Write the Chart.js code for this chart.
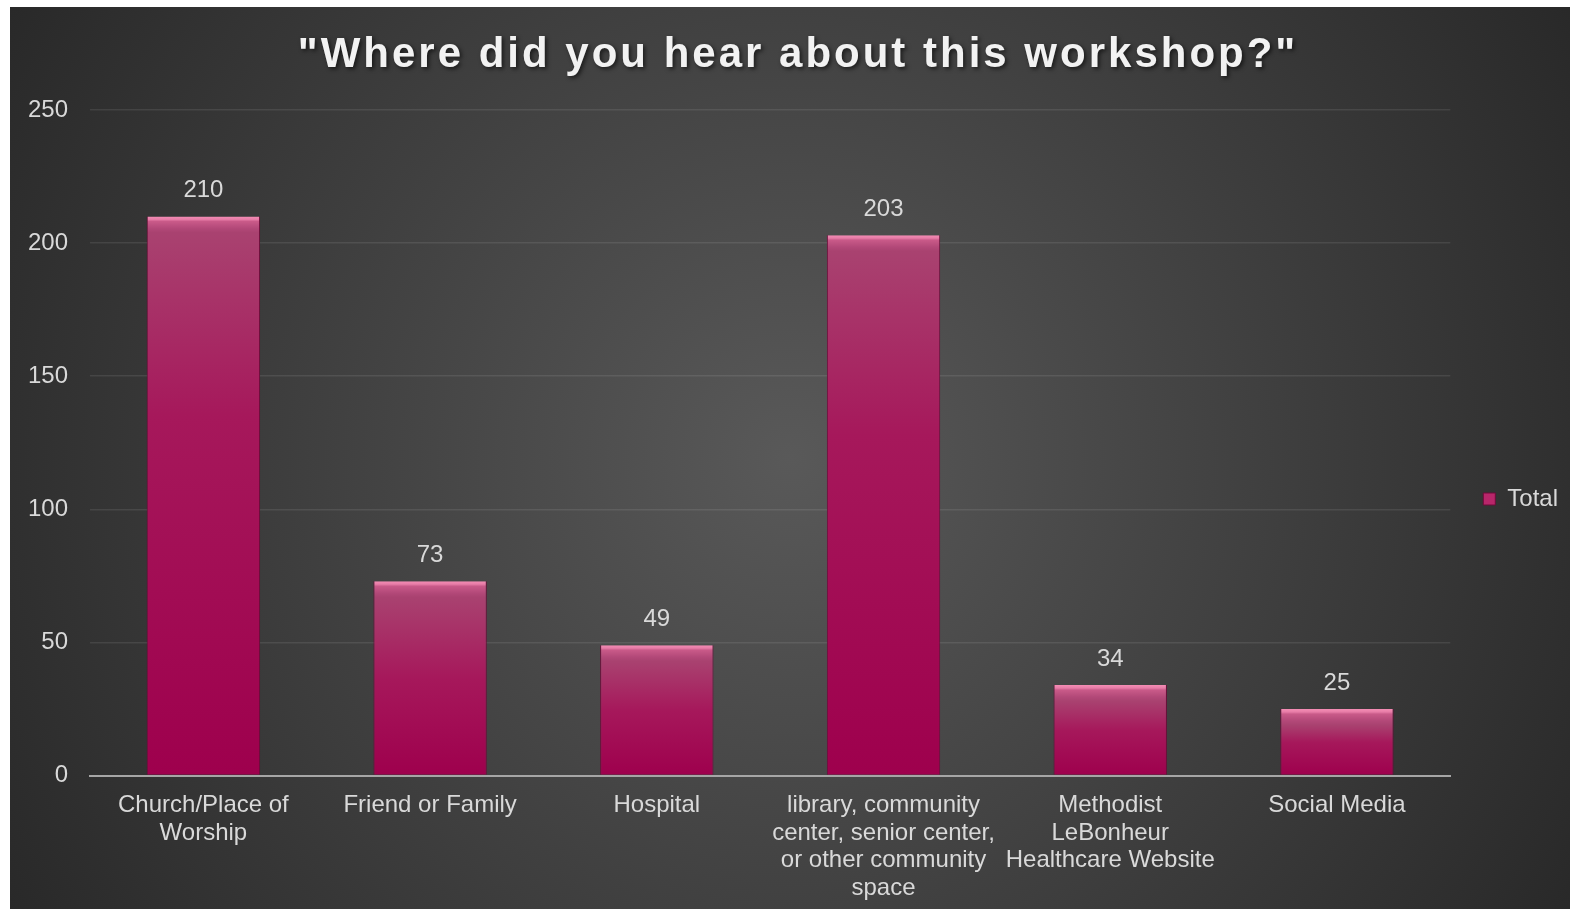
<!DOCTYPE html>
<html>
<head>
<meta charset="utf-8">
<script src="https://cdn.jsdelivr.net/npm/chart.js@4"></script>
<style>
    html, body { margin: 0; padding: 0; background: #ffffff; }
    #wrap { position: absolute; left: 10px; top: 7px; width: 1560px; height: 902px; }
</style>
</head>
<body>
<div id="wrap"><canvas id="chart"></canvas></div>
<script>
// 数据
const categories = [
    ['Church/Place of', 'Worship'],
    'Friend or Family',
    'Hospital',
    ['library, community', 'center, senior center,', 'or other community', 'space'],
    ['Methodist', 'LeBonheur', 'Healthcare Website'],
    'Social Media'
];
const totals = [210, 73, 49, 203, 34, 25];
const yTicks = [0, 50, 100, 150, 200, 250];
const chartTitle = '"Where did you hear about this workshop?"';
const seriesName = 'Total';

const textColor = '#d9d9d9';
const fontFamily = '"Liberation Sans", Arial, sans-serif';

// 背景 (径向渐变)
const backgroundPlugin = {
    id: 'bg',
    beforeDraw(chart) {
        const { ctx, width, height } = chart;
        const g = ctx.createRadialGradient(width * 0.5, height * 0.5, 0, width * 0.5, height * 0.5, width * 0.6);
        g.addColorStop(0, '#595959');
        g.addColorStop(1, '#272727');
        ctx.save();
        ctx.fillStyle = g;
        ctx.fillRect(0, 0, width, height);
        ctx.restore();
    }
};

// 图例上移一点 (与原图对齐)
const legendShiftPlugin = {
    id: 'legendShift',
    afterLayout(chart) {
        if (chart.legend) {
            chart.legend.top -= 15;
            chart.legend.bottom -= 15;
        }
    }
};

// 标题 (带字距和阴影)
const titlePlugin = {
    id: 'spacedTitle',
    afterDraw(chart) {
        const { ctx, width } = chart;
        ctx.save();
        ctx.font = `bold 42px ${fontFamily}`;
        ctx.letterSpacing = '3px';
        ctx.textAlign = 'center';
        ctx.textBaseline = 'alphabetic';
        ctx.shadowColor = 'rgba(0,0,0,0.6)';
        ctx.shadowOffsetX = 2;
        ctx.shadowOffsetY = 2;
        ctx.shadowBlur = 4;
        ctx.fillStyle = '#f2f2f2';
        ctx.fillText(chartTitle, width / 2 + 8, 60);
        ctx.restore();
    }
};

// 数据标签
const valueLabelPlugin = {
    id: 'valueLabels',
    afterDatasetsDraw(chart) {
        const { ctx } = chart;
        const meta = chart.getDatasetMeta(0);
        ctx.save();
        ctx.font = `24px ${fontFamily}`;
        ctx.fillStyle = textColor;
        ctx.textAlign = 'center';
        ctx.textBaseline = 'middle';
        meta.data.forEach((bar, i) => {
            ctx.fillText(String(totals[i]), bar.x, bar.y - 26);
        });
        ctx.restore();
    }
};

// 柱子渐变
function barFill(context) {
    const chart = context.chart;
    const { ctx, chartArea, scales } = chart;
    if (!chartArea) return '#a0004e';
    const v = context.raw;
    const top = scales.y.getPixelForValue(v);
    const bottom = scales.y.getPixelForValue(0);
    const h = Math.max(bottom - top, 1);
    const g = ctx.createLinearGradient(0, top, 0, bottom);
    const f = px => Math.min(px / h, 1);
    g.addColorStop(0, '#f48db5');
    g.addColorStop(f(3), '#e77ca7');
    g.addColorStop(f(5), '#c95a89');
    g.addColorStop(f(12), '#b24878');
    g.addColorStop(f(16), '#a94270');
    g.addColorStop(Math.min(0.5, f(200)), '#a6185b');
    g.addColorStop(1, '#9e004d');
    return g;
}

new Chart(document.getElementById('chart'), {
    type: 'bar',
    data: {
        labels: categories,
        datasets: [{
            label: seriesName,
            data: totals,
            backgroundColor: barFill,
            borderColor: '#6e0a3a',
            borderWidth: { top: 0, left: 1, right: 1, bottom: 0 },
            categoryPercentage: 1.0,
            barPercentage: 0.5
        }]
    },
    options: {
        responsive: true,
        maintainAspectRatio: false,
        animation: false,
        layout: { padding: { top: 103, left: -4, right: 2, bottom: -9 } },
        plugins: {
            title: { display: false },
            tooltip: { enabled: false },
            legend: {
                position: 'right',
                labels: {
                    color: textColor,
                    font: { family: fontFamily, size: 24 },
                    boxWidth: 12,
                    boxHeight: 12,
                    padding: 33,
                    generateLabels() {
                        return [{
                            text: seriesName,
                            fillStyle: '#b8266a',
                            strokeStyle: '#6e0a3a',
                            lineWidth: 1,
                            fontColor: textColor,
                            hidden: false,
                            datasetIndex: 0
                        }];
                    }
                }
            }
        },
        scales: {
            x: {
                grid: { display: false, drawTicks: false },
                border: { display: true, color: '#a6a6a6', width: 2 },
                ticks: {
                    color: textColor,
                    font: { family: fontFamily, size: 24, lineHeight: 1.15 },
                    padding: 16,
                    maxRotation: 0,
                    autoSkip: false
                }
            },
            y: {
                min: 0,
                max: 250,
                afterBuildTicks(scale) {
                    scale.ticks = yTicks.map(v => ({ value: v }));
                },
                grid: { color: 'rgba(255,255,255,0.09)', lineWidth: 1.5, drawTicks: false },
                border: { display: false },
                ticks: {
                    color: textColor,
                    font: { family: fontFamily, size: 24 },
                    padding: 22
                }
            }
        }
    },
    plugins: [backgroundPlugin, legendShiftPlugin, titlePlugin, valueLabelPlugin]
});
</script>
</body>
</html>
